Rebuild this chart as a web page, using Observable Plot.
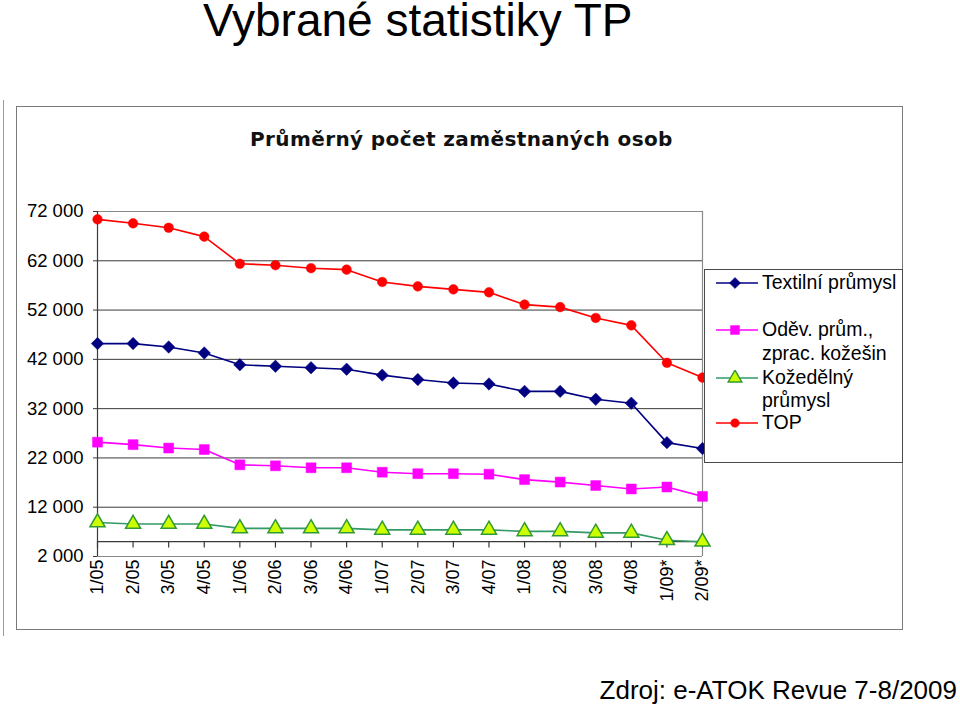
<!DOCTYPE html>
<html>
<head>
<meta charset="utf-8">
<script src="https://cdn.jsdelivr.net/npm/d3@7"></script>
<script src="https://cdn.jsdelivr.net/npm/@observablehq/plot@0.6"></script>
<style>
  html, body { margin: 0; padding: 0; background: #fff; }
  body { width: 960px; height: 708px; position: relative; overflow: hidden; font-family: "Liberation Sans", Arial, sans-serif; color: #000; }
  .abs { position: absolute; white-space: nowrap; }
  #page-title { left: 203px; top: 0px; font-size: 46px; line-height: 40px; }
  #caption { right: 3px; top: 677px; font-size: 26px; line-height: 1; }
  #leftline { left: 3px; top: 100px; width: 0; height: 536px; border-left: 1px solid #9a9a9a; }
  #frame { left: 16px; top: 106px; width: 885px; height: 522px; border: 1px solid #7a7a7a; }
  #chart-title { left: 250px; top: 129px; font-family: "DejaVu Sans", sans-serif; font-size: 20px; font-weight: bold; line-height: 1; letter-spacing: 0.4px; color: #111; }
  #chart { left: 0; top: 190px; width: 720px; height: 450px; }
  #legend { left: 704px; top: 269px; width: 197px; height: 192px; border: 1px solid #4a4a4a; background: #fff; }
  .leg-text { font-size: 19.5px; line-height: 1; }
</style>
</head>
<body>
<div id="leftline" class="abs"></div>
<div id="frame" class="abs"></div>
<div id="page-title" class="abs">Vybrané statistiky TP</div>
<div id="chart-title" class="abs">Průměrný počet zaměstnaných osob</div>
<div id="chart" class="abs"></div>
<div id="legend" class="abs"></div>
<div id="caption" class="abs">Zdroj: e-ATOK Revue 7-8/2009</div>
<script>
// ---- data ----
const categories = ["1/05","2/05","3/05","4/05","1/06","2/06","3/06","4/06","1/07","2/07","3/07","4/07","1/08","2/08","3/08","4/08","1/09*","2/09*"];
const textil     = [45200,45200,44500,43300,40900,40600,40300,40000,38800,37900,37200,37000,35500,35500,33900,33100,25100,23900];
const odev       = [25200,24700,24000,23700,20600,20400,20000,20000,19100,18800,18800,18700,17600,17100,16400,15700,16100,14200];
const kozedelny  = [8900,8600,8600,8600,7700,7700,7700,7700,7400,7400,7400,7400,7100,7100,6800,6800,5300,5000];
const topTotal   = [70400,69600,68700,66900,61400,61100,60500,60200,57700,56800,56200,55600,53100,52600,50400,48900,41300,38300];
const seriesNames = ["Textilní průmysl", "Oděv. prům., zprac. kožešin", "Kožedělný průmysl", "TOP"];
const seriesLegendLines = [["Textilní průmysl"], ["Oděv. prům.,", "zprac. kožešin"], ["Kožedělný", "průmysl"], ["TOP"]];
const yTicks = [2000, 12000, 22000, 32000, 42000, 52000, 62000, 72000];
const xAxisCross = 5000;

// ---- styles ----
const lineColors = ["#000080", "#ff00ff", "#339966", "#ff0000"];
const markFill   = ["#000080", "#ff00ff", "#ccff00", "#ff0000"];
const markSymbol = ["diamond2", "square", "triangle", "circle"];
const markR      = [5.6, 5.6, 5.6, 4.8];

const seriesValues = [textil, odev, kozedelny, topTotal];
const rows = [];
seriesValues.forEach((vals, si) => vals.forEach((v, i) => rows.push({series: seriesNames[si], cat: categories[i], value: v, si})));

const fmt = d => d3.format(",")(d).replace(/,/g, " ");

const W = 720, H = 450, ML = 97, MR = 18, MT = 21, MB = 84;

const marks = [
  Plot.ruleY(yTicks.slice(1, -1), {stroke: "#3a3a3a", strokeWidth: 1}),
  Plot.ruleY([yTicks[0], yTicks[yTicks.length - 1]], {stroke: "#8a8a8a", strokeWidth: 1.2}),
  Plot.ruleX([categories[categories.length - 1]], {y1: yTicks[0], y2: yTicks[yTicks.length - 1], stroke: "#8a8a8a", strokeWidth: 1.2}),
  Plot.ruleX([categories[0]], {y1: yTicks[0], y2: yTicks[yTicks.length - 1], stroke: "#3a3a3a", strokeWidth: 1.2}),
  Plot.ruleY([xAxisCross], {stroke: "#3a3a3a", strokeWidth: 1.2}),
  Plot.ruleX(categories, {y1: xAxisCross, y2: xAxisCross - 1300, stroke: "#3a3a3a", strokeWidth: 1.2}),
  Plot.axisY({ticks: yTicks, tickFormat: fmt, tickSize: 4, tickPadding: 10, fontSize: 18.5, label: null, stroke: "#3a3a3a"}),
  Plot.axisX({tickRotate: -90, tickSize: 0, tickPadding: 3, fontSize: 18, label: null})
];
seriesNames.forEach((name, si) => {
  const d = rows.filter(r => r.si === si);
  marks.push(Plot.line(d, {x: "cat", y: "value", stroke: lineColors[si], strokeWidth: 1.6}));
});
seriesNames.forEach((name, si) => {
  const d = rows.filter(r => r.si === si);
  marks.push(Plot.dot(d, {x: "cat", y: "value", symbol: markSymbol[si], r: markR[si], fill: markFill[si],
    stroke: si === 2 ? "#339933" : markFill[si], strokeWidth: si === 2 ? 1.5 : 0.5}));
});

const chart = Plot.plot({
  width: W,
  height: H,
  marginLeft: ML,
  marginRight: MR,
  marginTop: MT,
  marginBottom: MB,
  style: {fontFamily: "'Liberation Sans', Arial, sans-serif", fontSize: "18px", color: "#000", background: "transparent", overflow: "visible", maxWidth: "none"},
  x: {type: "point", domain: categories, padding: 0, round: false, range: [ML, W - MR], label: null},
  y: {domain: [yTicks[0], yTicks[yTicks.length - 1]], range: [H - MB, MT], label: null},
  marks
});
document.getElementById("chart").appendChild(chart);

// ---- legend ----
const legend = document.getElementById("legend");
const legTop = 269;
const entryY = [281.7, 329.3, 376.5, 421.5];
const lineGap = 23.5;
const symMap = {diamond2: d3.symbolDiamond2, square: d3.symbolSquare, triangle: d3.symbolTriangle, circle: d3.symbolCircle};
seriesNames.forEach((name, si) => {
  const sw = d3.create("svg").attr("width", 44).attr("height", 16)
    .style("position", "absolute").style("left", (715 - 704) + "px").style("top", (entryY[si] - 8 - legTop) + "px");
  sw.append("line").attr("x1", 0).attr("x2", 42).attr("y1", 8).attr("y2", 8).attr("stroke", lineColors[si]).attr("stroke-width", 1.6);
  sw.append("path").attr("transform", "translate(19,8)")
    .attr("d", d3.symbol(symMap[markSymbol[si]], Math.PI * markR[si] * markR[si] * 0.8)())
    .attr("fill", markFill[si]).attr("stroke", si === 2 ? "#339933" : markFill[si]).attr("stroke-width", si === 2 ? 1.5 : 0.5);
  legend.appendChild(sw.node());
  seriesLegendLines[si].forEach((t, li) => {
    const div = document.createElement("div");
    div.className = "abs leg-text";
    div.textContent = t;
    div.style.left = (761 - 704) + "px";
    div.style.top = (entryY[si] + li * lineGap - 10 - legTop) + "px";
    legend.appendChild(div);
  });
});
</script>
</body>
</html>
